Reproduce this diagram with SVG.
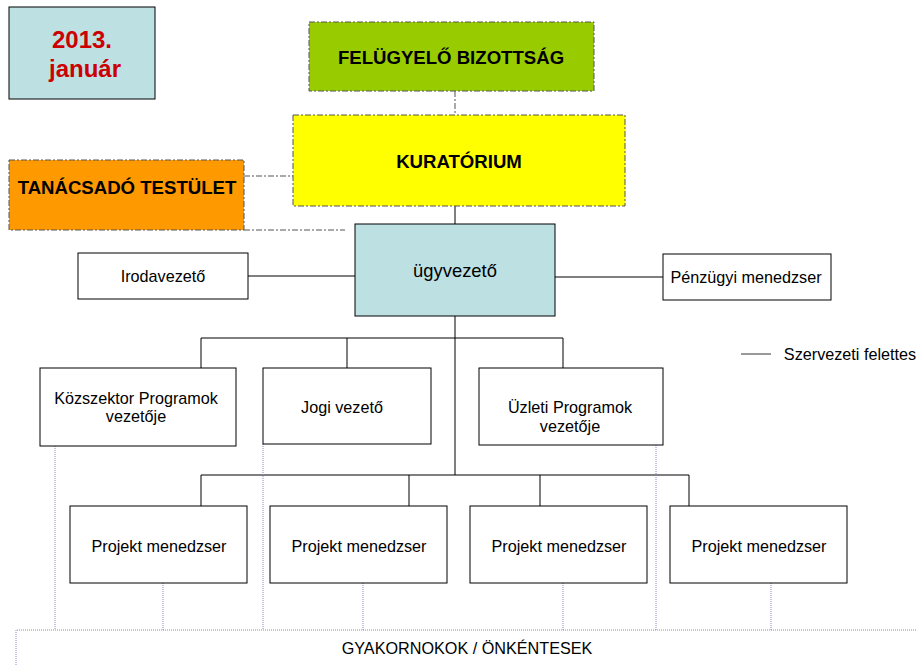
<svg xmlns="http://www.w3.org/2000/svg" width="916" height="666" viewBox="0 0 916 666">
<style>
text{font-family:"Liberation Sans",Arial,sans-serif;text-anchor:middle;fill:#000}
.b{font-weight:bold;font-size:18.6px}
.n{font-size:16.2px}
.box{fill:#fff;stroke:#000;stroke-width:1}
.dd{stroke:#555;stroke-width:1;stroke-dasharray:6,2,2,2}
.sl{stroke:#000;stroke-width:1;fill:none}
.dot{stroke:#8888cc;stroke-width:1;stroke-dasharray:1,1;fill:none}
</style>
<rect width="916" height="666" fill="#fff"/>
<g id="connectors">
<line class="dd" x1="455" y1="91" x2="455" y2="115"/>
<line class="dd" x1="244" y1="176" x2="293" y2="176"/>
<line class="dd" x1="244" y1="230" x2="345" y2="230"/>
<line class="sl" x1="455" y1="206" x2="455" y2="224"/>
<line class="sl" x1="248" y1="276" x2="355" y2="276"/>
<line class="sl" x1="555" y1="277" x2="663" y2="277"/>
<line class="sl" x1="455" y1="316" x2="455" y2="475"/>
<polyline class="sl" points="201,368 201,338 563,338 563,368"/>
<line class="sl" x1="347" y1="338" x2="347" y2="368"/>
<polyline class="sl" points="201,506 201,475 689,475 689,506"/>
<line class="sl" x1="409" y1="475" x2="409" y2="506"/>
<line class="sl" x1="540" y1="475" x2="540" y2="506"/>
<line class="dot" x1="55" y1="446" x2="55" y2="630"/>
<line class="dot" x1="263" y1="444" x2="263" y2="630"/>
<line class="dot" x1="656" y1="445" x2="656" y2="630"/>
<line class="dot" x1="163" y1="583" x2="163" y2="630"/>
<line class="dot" x1="363" y1="583" x2="363" y2="630"/>
<line class="dot" x1="563" y1="583" x2="563" y2="630"/>
<line class="dot" x1="771" y1="583" x2="771" y2="630"/>
<polyline class="dot" points="916,630 16,630 16,666"/>
<line x1="741" y1="354" x2="771" y2="354" stroke="#777" stroke-width="1.5"/>
</g>
<g id="date">
<rect x="9" y="7" width="146" height="92" fill="#bde1e3" stroke="#000"/>
<text x="82" y="48" style="font-weight:bold;font-size:24px;fill:#cc0000">2013.</text>
<text x="85" y="77" style="font-weight:bold;font-size:24px;fill:#cc0000">január</text>
</g>
<g id="felugyelo">
<rect x="309" y="22" width="285" height="69" fill="#99cc00" class="dd"/>
<text class="b" x="451" y="64">FELÜGYELŐ BIZOTTSÁG</text>
</g>
<g id="kuratorium">
<rect x="293" y="115" width="332" height="91" fill="#ffff00" class="dd"/>
<text class="b" x="459" y="168">KURATÓRIUM</text>
</g>
<g id="tanacsado">
<rect x="9" y="160" width="235" height="70" fill="#ff9900" class="dd"/>
<text class="b" x="127" y="194">TANÁCSADÓ TESTÜLET</text>
</g>
<g id="ugyvezeto">
<rect x="355" y="224" width="200" height="92" fill="#bde1e3" stroke="#000"/>
<text x="455" y="277" style="font-size:18.4px">ügyvezető</text>
</g>
<g id="irodavezeto">
<rect class="box" x="78" y="253" width="170" height="46"/>
<text class="n" x="163" y="282">Irodavezető</text>
</g>
<g id="penzugyi">
<rect class="box" x="663" y="254" width="168" height="46"/>
<text class="n" x="746" y="283">Pénzügyi menedzser</text>
</g>
<g id="legend">
<text class="n" x="850" y="360">Szervezeti felettes</text>
</g>
<g id="kozszektor">
<rect class="box" x="40" y="368" width="196" height="78"/>
<text class="n" x="136" y="404">Közszektor Programok</text>
<text class="n" x="136" y="422">vezetője</text>
</g>
<g id="jogi">
<rect class="box" x="263" y="368" width="168" height="76"/>
<text class="n" x="342" y="413">Jogi vezető</text>
</g>
<g id="uzleti">
<rect class="box" x="479" y="368" width="184" height="77"/>
<text class="n" x="570" y="413">Üzleti Programok</text>
<text class="n" x="570" y="432">vezetője</text>
</g>
<g id="pm1">
<rect class="box" x="70" y="506" width="177" height="77"/>
<text class="n" x="159" y="552">Projekt menedzser</text>
</g>
<g id="pm2">
<rect class="box" x="270" y="506" width="177" height="77"/>
<text class="n" x="359" y="552">Projekt menedzser</text>
</g>
<g id="pm3">
<rect class="box" x="470" y="506" width="177" height="77"/>
<text class="n" x="559" y="552">Projekt menedzser</text>
</g>
<g id="pm4">
<rect class="box" x="670" y="506" width="177" height="77"/>
<text class="n" x="759" y="552">Projekt menedzser</text>
</g>
<g id="gyakornokok">
<text class="n" x="467" y="654">GYAKORNOKOK / ÖNKÉNTESEK</text>
</g>
</svg>
